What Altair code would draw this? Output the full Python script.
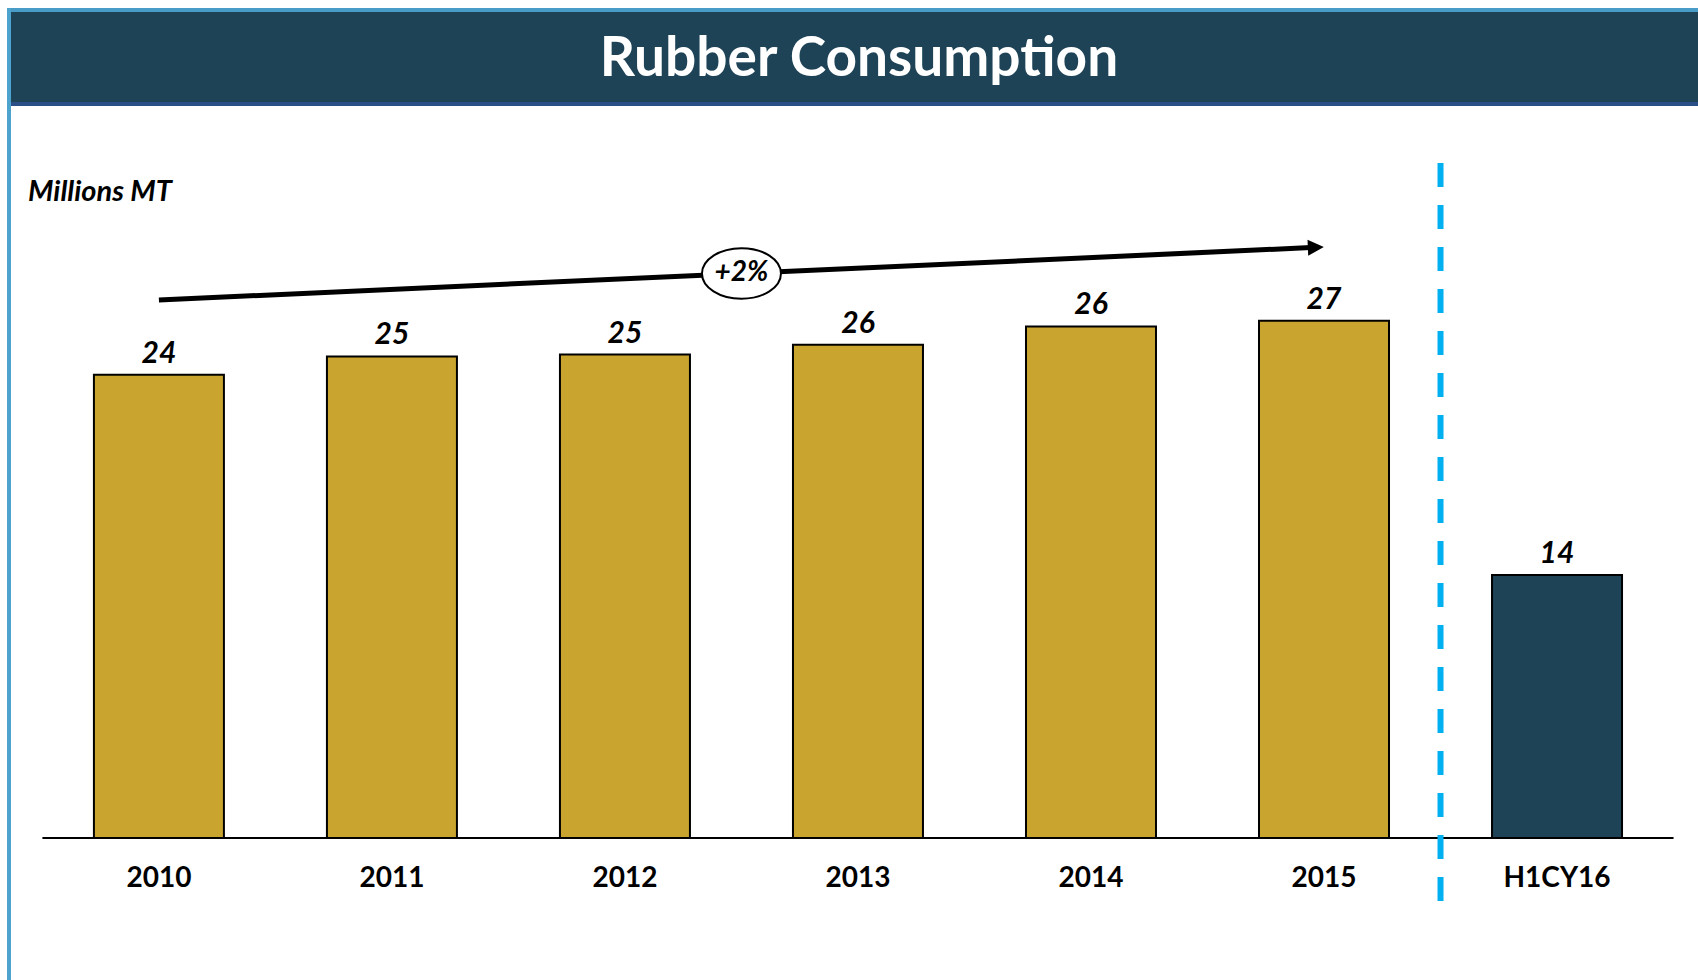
import altair as alt
import pandas as pd

# ---- data ----
categories = ["2010", "2011", "2012", "2013", "2014", "2015", "H1CY16"]
values = [23.95, 24.9, 25.0, 25.5, 26.45, 26.75, 13.6]
value_labels = ["24", "25", "25", "26", "26", "27", "14"]
bar_colors = ["#C9A52F"] * 6 + ["#1E4356"]

# trend arrow (2010 -> 2015) and its growth label
trend_pos = [0.0, 4.965]
trend_val = [27.82, 30.54]
trend_tip_angle = 357.4
growth_label = "+2%"
growth_pos = 2.5
growth_val = 29.19

# separator between full years and half year
sep_pos = 5.5
sep_top = 34.9
sep_bottom = -3.72

title_text = "Rubber Consumption"
unit_text = "Millions MT"

W, H = 1698, 980
XS = alt.Scale(domain=[-0.682, 6.605], nice=False, zero=False, padding=0)
YS = alt.Scale(domain=[-7.342, 43.33], nice=False, zero=False, padding=0)

df = pd.DataFrame({
    "pos": list(range(len(categories))),
    "cat": categories,
    "value": values,
    "label": value_labels,
    "color": bar_colors,
})
one = pd.DataFrame({"a": [0]})

FONT = "Lato"

def X(field=None, datum=None):
    if field is not None:
        return alt.X(field, type="quantitative", scale=XS, axis=None)
    return alt.X(datum=datum, type="quantitative", scale=XS, axis=None)

def Y(field=None, datum=None):
    if field is not None:
        return alt.Y(field, type="quantitative", scale=YS, axis=None)
    return alt.Y(datum=datum, type="quantitative", scale=YS, axis=None)

# decorative frame: banner and left border
banner = alt.Chart(one).mark_rect(color="#1E4356").encode(
    x=alt.value(8), x2=alt.value(W), y=alt.value(9), y2=alt.value(106))
banner_top = alt.Chart(one).mark_rect(color="#4A9CC8").encode(
    x=alt.value(8), x2=alt.value(W), y=alt.value(8), y2=alt.value(12))
banner_bot = alt.Chart(one).mark_rect(color="#2A4F86").encode(
    x=alt.value(8), x2=alt.value(W), y=alt.value(102), y2=alt.value(106))
left_border = alt.Chart(one).mark_rect(color="#4BA3CE").encode(
    x=alt.value(7), x2=alt.value(11), y=alt.value(8), y2=alt.value(H))

title = alt.Chart(one).mark_text(
    text=title_text, font=FONT, fontWeight="bold", fontSize=55, color="white",
    align="center", baseline="alphabetic").encode(x=alt.value(859), y=alt.value(76))

unit = alt.Chart(one).mark_text(
    text=unit_text, font=FONT, fontWeight="bold", fontStyle="italic", fontSize=29,
    color="black", align="left", baseline="alphabetic").encode(
    x=alt.value(28), y=alt.value(201))

bars = alt.Chart(df).mark_bar(size=130, stroke="black", strokeWidth=2).encode(
    x=X("pos"), y=Y("value"), y2=alt.Y2(datum=0),
    color=alt.Color("color:N", scale=None))

bar_labels = alt.Chart(df).mark_text(
    font=FONT, fontWeight="bold", fontStyle="italic", fontSize=30,
    baseline="alphabetic", dy=-12, color="black").encode(
    x=X("pos"), y=Y("value"), text="label:N")

cat_labels = alt.Chart(df).mark_text(
    font=FONT, fontWeight="bold", fontSize=28, baseline="alphabetic",
    dy=49, color="black").encode(
    x=X("pos"), y=Y(datum=0), text="cat:N")

baseline = alt.Chart(one).mark_rule(color="black", strokeWidth=2).encode(
    x=X(datum=-0.5), x2=alt.X2(datum=6.5), y=Y(datum=0))

separator = alt.Chart(one).mark_rule(
    color="#00B0F0", strokeWidth=6, strokeDash=[24, 18]).encode(
    x=X(datum=sep_pos), y=Y(datum=sep_top), y2=alt.Y2(datum=sep_bottom))

trend_df = pd.DataFrame({"pos": trend_pos, "value": trend_val})
trend_line = alt.Chart(trend_df).mark_line(color="black", strokeWidth=5).encode(
    x=X("pos"), y=Y("value"))
trend_head = alt.Chart(pd.DataFrame({"pos": [trend_pos[1]], "value": [trend_val[1]]})).mark_point(
    shape="M -1 -1 L 1 0 L -1 1 Z", size=256, filled=True, color="black",
    opacity=1, angle=trend_tip_angle).encode(x=X("pos"), y=Y("value"))

growth_df = pd.DataFrame({"pos": [growth_pos], "value": [growth_val], "label": [growth_label]})
ellipse = alt.Chart(growth_df).mark_point(
    shape="M -1 0 A 1 0.64 0 1 1 1 0 A 1 0.64 0 1 1 -1 0 Z", size=6241,
    filled=True, fill="white", stroke="black", strokeWidth=2, opacity=1).encode(
    x=X("pos"), y=Y("value"))
growth_text = alt.Chart(growth_df).mark_text(
    font=FONT, fontWeight="bold", fontStyle="italic", fontSize=28,
    baseline="middle", color="black").encode(
    x=X("pos"), y=Y("value"), text="label:N")

chart = alt.layer(
    banner, banner_top, banner_bot, left_border, title, unit,
    bars, bar_labels, cat_labels, baseline, separator,
    trend_line, trend_head, ellipse, growth_text,
).properties(
    width=W, height=H, padding=0, autosize=alt.AutoSizeParams(type="none"),
    background="white",
).configure_view(stroke=None)

chart.save("out.html", embed_options={"renderer": "svg", "actions": False})
